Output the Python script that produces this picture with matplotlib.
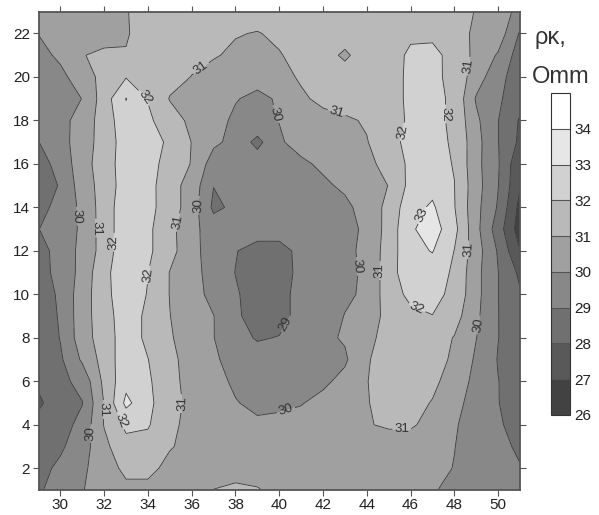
import numpy as np
import matplotlib
matplotlib.use("Agg")
import matplotlib.pyplot as plt

plt.rcParams["font.family"] = ["Liberation Sans", "DejaVu Sans"]

# profile coordinates
x_km = [29, 30, 31, 32, 33, 34, 35, 36, 37, 38, 39, 40,
        41, 42, 43, 44, 45, 46, 47, 48, 49, 50, 51]
y_km = [1, 2, 3, 4, 5, 6, 7, 8, 9, 10, 11, 12,
        13, 14, 15, 16, 17, 18, 19, 20, 21, 22, 23]

# apparent resistivity, one row per y (x = 29 ... 51)
rho_y01 = [28.85, 29.5, 29.95, 30.5, 30.8, 30.8, 30.7, 30.8, 31.01, 31.1, 31.05, 30.8,
           30.6, 30.5, 30.45, 30.4, 30.35, 30.25, 30.05, 29.85, 29.6, 29.4, 29.2]
rho_y02 = [28.7, 29.2, 29.8, 30.6, 31.2, 31.2, 30.8, 30.7, 30.75, 30.8, 30.7, 30.6,
           30.55, 30.5, 30.5, 30.5, 30.45, 30.4, 30.25, 29.97, 29.6, 29.3, 29.05]
rho_y03 = [28.6, 28.85, 29.55, 30.75, 31.7, 31.6, 31.05, 30.8, 30.7, 30.6, 30.55, 30.55,
           30.6, 30.6, 30.6, 30.6, 30.6, 30.6, 30.45, 30.02, 29.6, 29.25, 28.85]
rho_y04 = [28.3, 28.6, 29.3, 31.05, 32.2, 32.1, 31.15, 30.8, 30.6, 30.3, 30.15, 30.2,
           30.35, 30.55, 30.75, 30.95, 31.1, 31.1, 30.75, 30.1, 29.55, 29.1, 28.7]
rho_y05 = [27.85, 28.5, 28.97, 31.05, 33.25, 32.3, 31.2, 30.85, 30.5, 30.05, 29.8, 29.85,
           29.95, 30.3, 30.7, 30.97, 31.2, 31.3, 30.95, 30.3, 29.6, 29.02, 28.65]
rho_y06 = [28.15, 28.75, 29.3, 31.25, 32.7, 32.15, 31.3, 30.65, 30.3, 29.85, 29.65, 29.7,
           29.8, 29.8, 30.3, 30.98, 31.3, 31.35, 31.2, 30.6, 29.7, 29.02, 28.55]
rho_y07 = [28.1, 28.85, 30.15, 31.4, 32.6, 32.02, 31.25, 30.6, 30.1, 29.75, 29.5, 29.55,
           29.7, 29.8, 29.85, 30.95, 31.25, 31.4, 31.35, 30.85, 29.85, 28.95, 28.5]
rho_y08 = [28.05, 29.05, 30.55, 31.5, 32.5, 31.8, 31.1, 30.5, 30.02, 29.4, 28.9, 29.05,
           29.5, 29.8, 30.1, 30.85, 31.2, 31.5, 31.5, 30.95, 30.02, 29.02, 28.4]
rho_y09 = [28.1, 29.15, 30.55, 31.6, 32.5, 31.8, 31.02, 30.4, 30.02, 29.2, 28.5, 28.6,
           29.4, 29.7, 30.02, 30.5, 31.3, 31.8, 31.98, 31.4, 30.2, 29.02, 28.3]
rho_y10 = [28.2, 29.25, 30.5, 31.7, 32.6, 31.95, 30.97, 30.4, 29.7, 29.1, 28.6, 28.6,
           29.4, 29.6, 29.9, 30.1, 31.6, 32.2, 32.3, 31.75, 30.3, 29.02, 28.1]
rho_y11 = [28.7, 29.25, 30.35, 31.75, 32.6, 32.02, 30.97, 30.35, 29.6, 28.98, 28.5, 28.5,
           29.3, 29.5, 29.85, 30.1, 31.6, 32.6, 32.5, 31.85, 30.3, 29.02, 27.8]
rho_y12 = [28.55, 29.45, 30.25, 31.45, 32.7, 32.2, 31.3, 30.4, 29.4, 29.05, 28.6, 28.6,
           29.3, 29.45, 29.8, 30.2, 31.5, 32.7, 33.05, 31.98, 30.45, 28.9, 27.02]
rho_y13 = [28.98, 29.5, 30.15, 31.5, 32.6, 32.2, 31.3, 30.3, 29.5, 29.6, 29.5, 29.5,
           29.55, 29.65, 29.75, 30.15, 31.4, 32.85, 33.5, 32.3, 30.3, 28.5, 26.5]
rho_y14 = [28.6, 29.4, 30.2, 31.5, 32.6, 32.3, 31.5, 30.5, 28.8, 29.2, 29.4, 29.4,
           29.5, 29.65, 29.8, 30.35, 31.3, 32.65, 33.15, 32.05, 30.3, 28.9, 26.7]
rho_y15 = [28.3, 29.1, 30.5, 31.4, 32.5, 32.35, 31.4, 30.6, 29.02, 29.2, 29.5, 29.6,
           29.7, 29.85, 30.15, 30.6, 31.02, 32.3, 32.7, 32.02, 30.4, 29.03, 27.1]
rho_y16 = [28.6, 29.35, 30.6, 31.5, 32.5, 32.4, 31.6, 30.95, 29.5, 29.7, 29.6, 29.75,
           29.85, 30.15, 30.45, 30.7, 31.4, 32.2, 32.35, 31.95, 30.3, 29.1, 27.2]
rho_y17 = [28.98, 29.6, 30.55, 31.4, 32.5, 32.5, 31.8, 30.98, 30.2, 29.7, 28.7, 29.9,
           30.3, 30.6, 30.8, 30.95, 31.65, 32.3, 32.25, 31.9, 30.35, 29.03, 27.8]
rho_y18 = [29.2, 29.6, 30.5, 31.4, 32.7, 32.2, 31.4, 30.8, 30.3, 29.85, 29.8, 30.02,
           30.3, 30.6, 30.85, 31.1, 31.6, 32.15, 32.3, 31.8, 30.2, 29.02, 27.9]
rho_y19 = [29.3, 29.55, 30.02, 31.5, 33.03, 31.95, 30.95, 30.7, 30.4, 30.05, 29.8, 30.1,
           30.8, 31.3, 31.45, 31.5, 31.7, 32.15, 32.3, 31.8, 29.9, 29.15, 28.4]
rho_y20 = [29.6, 29.8, 30.4, 31.4, 31.95, 31.7, 31.3, 30.98, 30.7, 30.45, 30.3, 30.6,
           31.15, 31.4, 31.4, 31.5, 31.7, 32.15, 32.25, 31.7, 30.5, 29.3, 28.5]
rho_y21 = [29.75, 30.15, 30.98, 31.1, 31.02, 31.25, 31.3, 31.2, 31.07, 30.85, 30.75, 30.95,
           31.25, 31.35, 30.85, 31.45, 31.75, 32.1, 32.2, 31.75, 30.7, 29.9, 28.5]
rho_y22 = [30.02, 30.3, 30.6, 30.8, 30.97, 31.15, 31.25, 31.25, 31.15, 31.05, 30.96, 31.15,
           31.35, 31.45, 31.4, 31.5, 31.7, 31.9, 31.85, 31.45, 30.8, 30.55, 28.9]
rho_y23 = [30.3, 30.45, 30.6, 30.8, 30.98, 31.15, 31.3, 31.4, 31.4, 31.35, 31.35, 31.45,
           31.55, 31.6, 31.6, 31.65, 31.7, 31.75, 31.7, 31.4, 30.95, 30.5, 29.7]

levels = [26, 27, 28, 29, 30, 31, 32, 33, 34, 35]
band_colors = ["#424242", "#595959", "#707070", "#888888", "#a0a0a0",
               "#b9b9b9", "#d1d1d1", "#e6e6e6", "#ffffff"]

# where the isoline labels sit
label_spots = {
    29: [(40.2, 8.7)],
    30: [(39.85, 18.3), (30.9, 13.6), (36.2, 14.1), (43.7, 11.3),
         (49.1, 8.6), (31.55, 3.6), (40.3, 4.7)],
    31: [(36.5, 20.3), (42.7, 18.6), (48.6, 20.5), (31.7, 13.05),
         (35.4, 13.3), (48.6, 12.05), (44.5, 11.1), (35.4, 5.0),
         (32.0, 4.7), (45.6, 3.9)],
    32: [(33.9, 19.1), (45.5, 17.5), (47.6, 18.3), (32.4, 12.4),
         (34.0, 10.9), (46.3, 9.4), (32.8, 4.2)],
    33: [(46.5, 13.65)],
}

rho = np.array([rho_y01, rho_y02, rho_y03, rho_y04, rho_y05, rho_y06, rho_y07, rho_y08,
                rho_y09, rho_y10, rho_y11, rho_y12, rho_y13, rho_y14, rho_y15, rho_y16,
                rho_y17, rho_y18, rho_y19, rho_y20, rho_y21, rho_y22, rho_y23])
X, Y = np.meshgrid(x_km, y_km)

fig = plt.figure(figsize=(5.99, 5.15), dpi=100)
ax = fig.add_axes([0.0643, 0.0485, 0.8038, 0.9287])

cf = ax.contourf(X, Y, rho, levels=levels, colors=band_colors)
line_col = "#3a3a3a"
for lev in levels[1:-1]:
    cs = ax.contour(X, Y, rho, levels=[lev], colors=line_col, linewidths=0.6)
    if lev in label_spots:
        ax.clabel(cs, manual=label_spots[lev], fmt="%d", fontsize=9.5,
                  colors="#333333", inline=True, inline_spacing=2)

ax.set_xlim(29, 51)
ax.set_ylim(1, 23)
ax.set_xticks(range(30, 51, 2))
ax.set_yticks(range(2, 23, 2))
ax.tick_params(direction="out", top=True, right=True, labeltop=False, labelright=False,
               length=4, width=0.8, color="#555555", labelcolor="#222222",
               labelsize=11, pad=2)
for sp in ax.spines.values():
    sp.set_color("#555555")
    sp.set_linewidth(1.3)

cax = fig.add_axes([0.9199, 0.1942, 0.0317, 0.6252])
cb = fig.colorbar(cf, cax=cax, ticks=levels[:-1], drawedges=True)
cb.ax.tick_params(length=0, labelsize=11, pad=3, labelcolor="#222222")
cb.outline.set_edgecolor("#333333")
cb.outline.set_linewidth(0.8)
cb.dividers.set_color("#555555")
cb.dividers.set_linewidth(0.8)

fig.text(535 / 599, 1 - 44 / 515, "ρκ,", fontsize=17, ha="left", va="baseline",
         color="#333333")
fig.text(532 / 599, 1 - 83 / 515, "Omm", fontsize=17, ha="left", va="baseline",
         color="#333333")

fig.savefig("out.png", dpi=100)
